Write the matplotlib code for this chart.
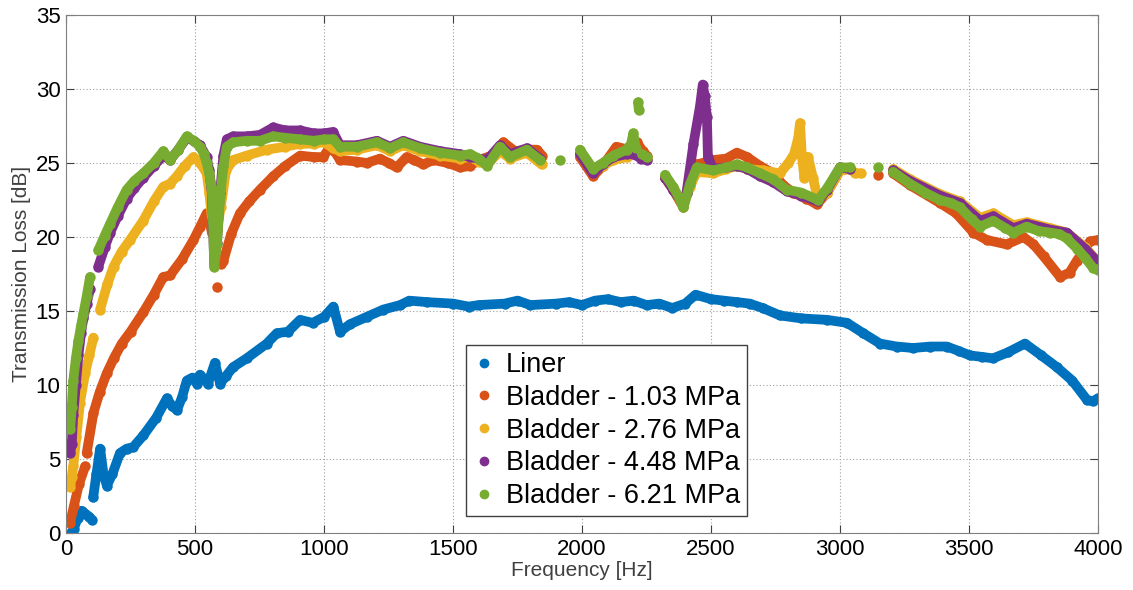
import numpy as np
import matplotlib
matplotlib.use("Agg")
import matplotlib.pyplot as plt
from matplotlib.lines import Line2D

nan = np.nan

# Liner
liner_f = [20, 30, 45, 60, 75, 90, 100, 103, 105, 118, 132, 145, 158, 180, 209, 235, 260, 300, 350, 391,
           410, 430, 450, 468, 490, 507, 519, 550, 577, 597, 620, 647, 700, 778, 817, 860, 907, 956, 1000,
           1036, 1062, 1100, 1165, 1230, 1295, 1330, 1400, 1500, 1560, 1600, 1700, 1750, 1800, 1900, 1950,
           2000, 2050, 2100, 2150, 2200, 2250, 2300, 2350, 2400, 2440, 2500, 2550, 2600, 2650, 2700, 2767,
           2850, 2950, 3027, 3090, 3155, 3220, 3283, 3350, 3414, 3460, 3504, 3550, 3593, 3650, 3717, 3780,
           3841, 3900, 3957, 3980, 4000]
liner_tl = [0.0, 0.3, 1.0, 1.5, 1.3, 1.1, 0.9, nan, 2.4, 4.0, 5.7, 4.0, 3.2, 4.0, 5.4, 5.7, 5.8, 6.6, 7.8, 9.1,
            8.6, 8.3, 9.2, 10.3, 10.5, 10.1, 10.7, 10.1, 11.5, 10.1, 10.6, 11.2, 11.8, 12.8, 13.5, 13.6, 14.4,
            14.2, 14.6, 15.3, 13.6, 14.1, 14.6, 15.1, 15.4, 15.7, 15.6, 15.5, 15.3, 15.4, 15.5, 15.7, 15.4,
            15.5, 15.6, 15.4, 15.7, 15.8, 15.6, 15.7, 15.4, 15.5, 15.2, 15.5, 16.1, 15.8, 15.7, 15.6, 15.5,
            15.2, 14.7, 14.5, 14.4, 14.2, 13.5, 12.8, 12.6, 12.5, 12.6, 12.6, 12.3, 12.0, 11.9, 11.8, 12.2,
            12.8, 12.0, 11.2, 10.3, 9.0, 8.9, 9.1]

# Bladder - 1.03 MPa
b103_f = [16, 30, 50, 74, 77, 80, 106, 130, 158, 185, 216, 250, 299, 340, 377, 403, 450, 494, 520, 545, 555,
          565, 575, 584, 592, 600, 610, 640, 674, 710, 752, 803, 850, 907, 960, 997, 1023, 1040, 1062, 1127,
          1166, 1217, 1250, 1282, 1320, 1350, 1385, 1423, 1480, 1527, 1566, 1600, 1650, 1695, 1740, 1790,
          1825, 1845, 1900, 1992, 2043, 2080, 2133, 2180, 2213, 2235, 2251, 2290, 2322, 2353, 2393, 2419,
          2445, 2509, 2560, 2600, 2640, 2690, 2741, 2780, 2819, 2870, 2910, 2950, 3000, 3039, 3100, 3147,
          3170, 3206, 3271, 3387, 3450, 3517, 3569, 3646, 3711, 3750, 3789, 3853, 3890, 3918, 3969, 4000]
b103_tl = [0.7, 1.8, 3.3, 4.5, nan, 5.4, 8.1, 9.5, 10.8, 11.8, 12.8, 13.6, 14.9, 16.1, 17.3, 17.4, 18.5, 19.8,
           20.7, 21.6, 21.2, 20.3, nan, 16.6, nan, 18.2, 18.4, 20.2, 21.6, 22.4, 23.2, 24.1, 24.8, 25.5, 25.4,
           25.4, 26.1, 25.8, 25.2, 25.1, 25.0, 25.3, 25.0, 24.7, 25.4, 25.2, 24.9, 25.2, 25.0, 24.7, 24.8,
           25.2, 25.5, 26.4, 25.8, 25.9, 25.9, 25.5, nan, 25.4, 24.1, 24.8, 26.1, 25.9, 26.4, 25.8, 25.5, nan,
           24.0, 23.2, 22.0, 23.8, 24.9, 25.2, 25.3, 25.7, 25.4, 24.8, 24.3, 23.5, 23.0, 22.6, 22.2, 23.0,
           24.5, 24.6, nan, 24.2, nan, 24.3, 23.5, 22.3, 21.6, 20.3, 19.8, 19.5, 20.0, 19.5, 18.7, 17.3, 17.6,
           18.4, 19.7, 19.8]

# Bladder - 2.76 MPa
b276_f = [16, 22, 28, 40, 54, 74, 90, 106, 118, 132, 160, 184, 215, 248, 299, 340, 377, 403, 429, 460, 494,
          520, 545, 555, 565, 575, 584, 600, 620, 648, 700, 778, 850, 907, 960, 1000, 1035, 1062, 1127, 1205,
          1256, 1307, 1372, 1450, 1527, 1566, 1600, 1632, 1682, 1721, 1786, 1843, 1900, 1992, 2043, 2080,
          2121, 2173, 2199, 2230, 2251, 2290, 2322, 2353, 2393, 2419, 2445, 2509, 2560, 2600, 2640, 2700,
          2767, 2800, 2822, 2838, 2845, 2852, 2862, 2876, 2895, 2915, 2950, 3000, 3040, 3060, 3080, 3150,
          3206, 3271, 3387, 3465, 3543, 3594, 3672, 3724, 3814, 3879, 3950, 4000]
b276_tl = [3.1, 3.8, 4.5, 6.5, 8.8, 10.8, 12.0, 13.2, nan, 15.1, 16.8, 18.0, 19.0, 19.8, 21.1, 22.4, 23.4, 23.6,
           24.1, 24.8, 25.4, 25.0, 24.3, 23.0, 21.4, 20.8, 20.5, 22.0, 24.5, 25.2, 25.5, 25.9, 26.1, 26.3,
           26.3, 26.4, 26.0, 25.8, 25.9, 26.2, 25.8, 26.2, 25.8, 25.5, 25.3, 25.4, 25.1, 24.9, 25.8, 25.3,
           25.7, 24.9, nan, 25.6, 24.5, 24.8, 25.2, 25.4, 25.8, 25.5, 25.3, nan, 24.1, 23.3, 22.1, 23.4, 24.4,
           24.3, 24.6, 24.8, 24.6, 24.5, 24.3, 25.0, 25.6, 26.7, 27.7, 25.5, 24.0, 25.4, 24.0, 22.5, 23.0,
           24.5, 24.6, 24.3, 24.3, nan, 24.6, 23.9, 22.9, 22.4, 21.3, 21.6, 20.8, 21.0, 20.6, 20.3, 19.3, 18.3]

# Bladder - 4.48 MPa
b448_f = [16, 22, 28, 38, 48, 58, 67, 80, 93, 110, 125, 150, 171, 200, 235, 265, 299, 340, 377, 403, 435, 468,
          495, 519, 545, 555, 565, 574, 585, 597, 610, 623, 648, 700, 752, 803, 850, 907, 960, 1000, 1035,
          1062, 1127, 1205, 1256, 1307, 1372, 1450, 1527, 1566, 1600, 1632, 1682, 1721, 1786, 1837, 1900,
          1992, 2043, 2080, 2121, 2173, 2199, 2230, 2251, 2290, 2322, 2353, 2393, 2405, 2432, 2457, 2468,
          2476, 2484, 2488, 2509, 2560, 2600, 2640, 2690, 2741, 2793, 2850, 2915, 2950, 3000, 3039, 3150,
          3206, 3271, 3387, 3465, 3543, 3594, 3672, 3724, 3814, 3879, 3950, 4000]
b448_tl = [5.4, 6.0, 8.0, 10.0, 12.0, 13.5, 14.5, 15.5, 16.5, nan, 18.0, 19.3, 20.3, 21.4, 22.6, 23.3, 24.0,
           24.8, 25.5, 25.2, 25.9, 26.7, 26.5, 26.2, 25.4, 24.5, 23.0, 18.5, 19.6, 23.0, 25.5, 26.6, 26.8,
           26.8, 26.9, 27.4, 27.2, 27.2, 27.0, 27.0, 27.1, 26.2, 26.2, 26.5, 26.1, 26.5, 26.1, 25.8, 25.6,
           25.4, 25.3, 25.2, 26.2, 25.6, 26.0, 25.3, nan, 25.6, 24.3, 24.9, 25.4, 25.6, 25.6, 25.3, 25.2, nan,
           24.0, 23.2, 22.2, 23.0, 26.3, 28.8, 30.3, 29.5, 28.1, 25.4, 24.6, 24.7, 24.8, 24.6, 24.1, 23.7,
           23.1, 22.8, 22.4, 23.2, 24.7, 24.6, nan, 24.5, 23.8, 22.8, 22.3, 21.1, 21.4, 20.6, 20.9, 20.5,
           20.3, 19.2, 18.3]

# Bladder - 6.21 MPa
b621_f = [16, 22, 28, 38, 48, 58, 67, 80, 93, 110, 125, 150, 171, 200, 235, 265, 299, 340, 377, 403, 435, 468,
          495, 519, 535, 545, 555, 565, 570, 574, 585, 597, 610, 623, 648, 700, 752, 803, 850, 907, 960, 1000,
          1035, 1062, 1127, 1205, 1256, 1307, 1372, 1450, 1527, 1566, 1600, 1632, 1682, 1721, 1786, 1837,
          1880, 1915, 1950, 1992, 2043, 2080, 2121, 2173, 2190, 2199, 2208, 2212, 2217, 2220, 2225, 2232,
          2251, 2290, 2322, 2353, 2375, 2393, 2419, 2445, 2509, 2560, 2600, 2640, 2690, 2741, 2793, 2850,
          2915, 2950, 3000, 3039, 3100, 3147, 3170, 3206, 3271, 3330, 3387, 3430, 3465, 3510, 3543, 3594,
          3640, 3672, 3724, 3770, 3814, 3850, 3879, 3920, 3950, 3981, 4000]
b621_tl = [7.0, 8.5, 10.3, 11.8, 13.0, 14.0, 14.8, 16.0, 17.3, nan, 19.1, 20.1, 20.9, 22.0, 23.2, 23.8, 24.3,
           25.0, 25.8, 25.2, 25.9, 26.8, 26.5, 26.1, 25.6, 25.0, 24.3, 23.2, 21.0, 18.0, 19.5, 22.7, 24.8,
           26.1, 26.4, 26.5, 26.5, 26.8, 26.7, 26.6, 26.5, 26.6, 26.6, 26.1, 26.1, 26.4, 26.0, 26.4, 26.0,
           25.7, 25.5, 25.6, 25.3, 24.8, 26.1, 25.4, 25.9, 25.2, nan, 25.2, nan, 25.9, 24.6, 25.0, 25.5, 25.9,
           26.3, 27.0, 26.0, nan, 29.1, 28.6, nan, 25.6, 25.4, nan, 24.2, 23.4, 22.7, 22.0, 23.6, 24.7, 24.5,
           24.7, 24.9, 24.7, 24.3, 23.9, 23.2, 23.0, 22.5, 23.3, 24.7, 24.7, nan, 24.7, nan, 24.4, 23.6, 23.0,
           22.5, 22.3, 22.0, 21.2, 20.7, 21.1, 20.6, 20.3, 20.7, 20.4, 20.3, 20.2, 19.9, 19.2, 18.6, 17.9, 17.8]

labels = ["Liner", "Bladder - 1.03 MPa", "Bladder - 2.76 MPa", "Bladder - 4.48 MPa", "Bladder - 6.21 MPa"]
colors = ["#0072BD", "#D95319", "#EDB120", "#7E2F8E", "#77AC30"]
series = [(liner_f, liner_tl), (b103_f, b103_tl), (b276_f, b276_tl), (b448_f, b448_tl), (b621_f, b621_tl)]

plt.rcParams["font.family"] = ["Liberation Sans", "DejaVu Sans"]

fig = plt.figure(figsize=(11.33, 5.90), dpi=100)
ax = fig.add_axes([0.0583, 0.0966, 0.9108, 0.878])

for (f, tl), c in zip(series, colors):
    ax.plot(f, tl, color=c, lw=7, marker="o", ms=7.5, mec=c, mew=0,
            solid_capstyle="round", solid_joinstyle="round")

ax.set_xlim(0, 4000)
ax.set_ylim(0, 35)
ax.set_xticks(np.arange(0, 4001, 500))
ax.set_yticks(np.arange(0, 36, 5))
ax.tick_params(direction="in", top=True, right=True, labelsize=16, length=6, color="#404040", pad=4)
ax.grid(True, linestyle=(0, (1, 2)), color="#a0a0a0", lw=0.8)
for s in ax.spines.values():
    s.set_color("#808080")

ax.set_xlabel("Frequency [Hz]", fontsize=15, color="#404040", labelpad=1)
ax.set_ylabel("Transmission Loss [dB]", fontsize=15, color="#404040", labelpad=3)

handles = [Line2D([], [], color=c, marker="o", ls="none", ms=6) for c in colors]
leg = ax.legend(handles, labels, loc="lower left", bbox_to_anchor=(0.388, 0.033), borderaxespad=0,
                fontsize=19.5, frameon=True, fancybox=False, framealpha=1, edgecolor="#404040",
                handlelength=0.8, handletextpad=0.4, labelspacing=0.25, borderpad=0.25)
leg.get_frame().set_linewidth(1.0)

fig.savefig("out.png", dpi=100)
